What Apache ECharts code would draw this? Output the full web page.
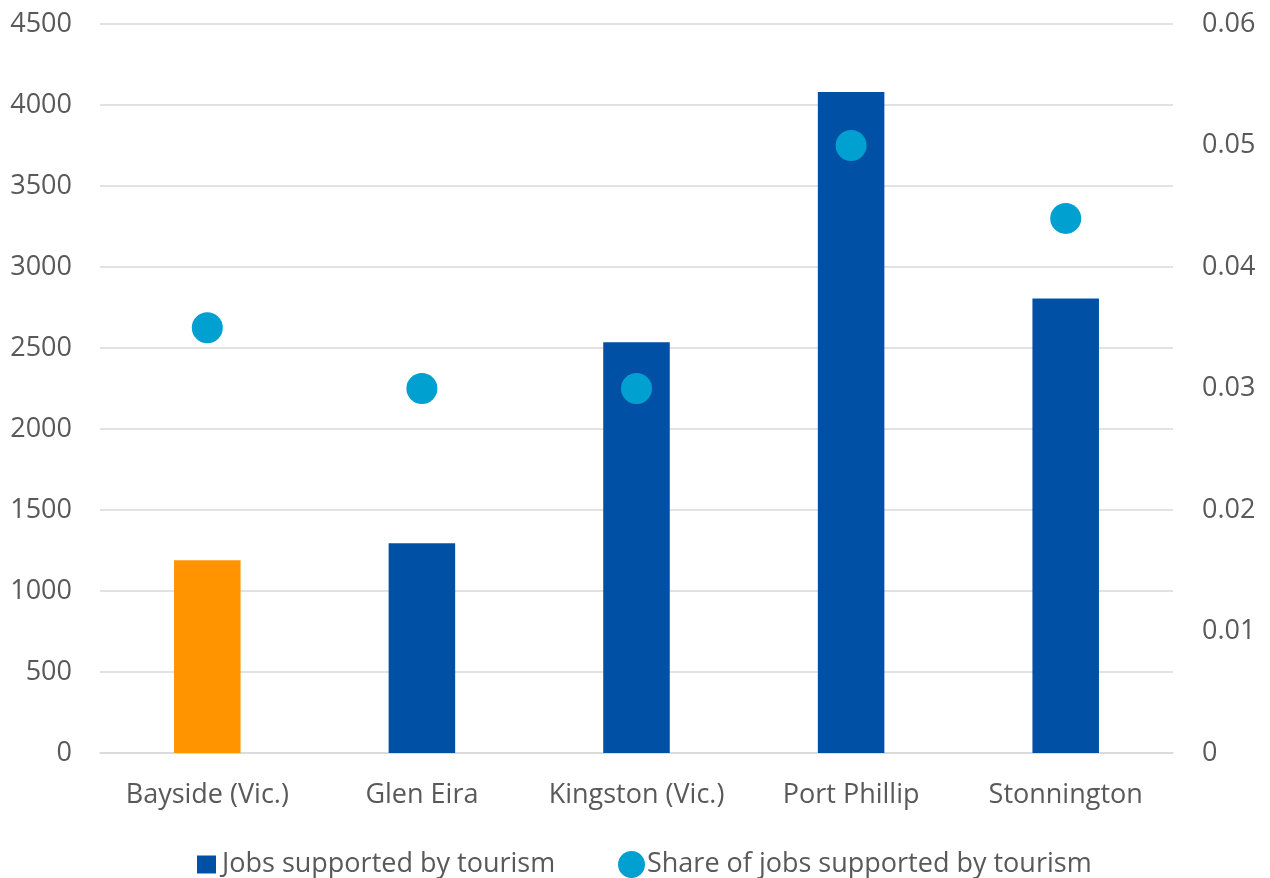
<!DOCTYPE html>
<html>
<head>
<meta charset="utf-8">
<style>
  html, body { margin: 0; padding: 0; background: #ffffff; }
  #chart { width: 1270px; height: 878px; }
</style>
<script src="https://cdn.jsdelivr.net/npm/echarts@6/dist/echarts.min.js"></script>
</head>
<body>
<div id="chart"></div>
<script>
// Local government areas
const categories = ['Bayside (Vic.)', 'Glen Eira', 'Kingston (Vic.)', 'Port Phillip', 'Stonnington'];
// Number of jobs supported by tourism (left axis)
const jobs = [1190, 1295, 2535, 4080, 2805];
// Share of all jobs supported by tourism (right axis)
const share = [0.035, 0.030, 0.030, 0.050, 0.044];
// Index of the highlighted area
const highlightIndex = 0;

const FONT = '"Open Sans", "Noto Sans", sans-serif';
const FS = 27;
const TEXT = '#595959';
const BLUE = '#0050A5';
const ORANGE = '#FF9300';
const CYAN = '#00A0D0';
const GRID = '#D9D9D9';

const chart = echarts.init(document.getElementById('chart'), null, { renderer: 'canvas' });

chart.setOption({
  backgroundColor: '#ffffff',
  animation: false,
  textStyle: { fontFamily: FONT, color: TEXT },
  grid: { left: 100, right: 97, top: 24, bottom: 125, containLabel: false },
  legend: [
    {
      data: [{ name: 'Jobs supported by tourism', icon: 'rect' }],
      left: 192, top: 846,
      itemWidth: 19, itemHeight: 18,
      textStyle: { fontFamily: FONT, fontSize: FS, color: TEXT, padding: [0, 0, 0, 1] }
    },
    {
      data: [{ name: 'Share of jobs supported by tourism', icon: 'circle' }],
      left: 613, top: 846,
      itemWidth: 27, itemHeight: 27,
      textStyle: { fontFamily: FONT, fontSize: FS, color: TEXT, padding: [0, 0, 0, -3] }
    }
  ],
  xAxis: {
    type: 'category',
    data: categories,
    axisLine: { show: true, lineStyle: { color: GRID, width: 1.5 } },
    axisTick: { show: false },
    axisLabel: {
      fontFamily: FONT, fontSize: FS, color: TEXT, margin: 29,
      interval: 0, hideOverlap: false
    }
  },
  yAxis: [
    {
      type: 'value',
      min: 0, max: 4500, interval: 500,
      axisLine: { show: false },
      axisTick: { show: false },
      splitLine: { lineStyle: { color: GRID, width: 1.5 } },
      axisLabel: {
        fontFamily: FONT, fontSize: FS, color: TEXT, margin: 28,
        formatter: v => String(v)
      }
    },
    {
      type: 'value',
      min: 0, max: 0.06, interval: 0.01,
      position: 'right',
      axisLine: { show: false },
      axisTick: { show: false },
      splitLine: { show: false },
      axisLabel: {
        fontFamily: FONT, fontSize: FS, color: TEXT, margin: 29,
        formatter: v => String(+v.toFixed(2))
      }
    }
  ],
  series: [
    {
      name: 'Jobs supported by tourism',
      type: 'bar',
      yAxisIndex: 0,
      barWidth: '31%',
      itemStyle: { color: BLUE },
      data: jobs.map((v, i) => i === highlightIndex ? { value: v, itemStyle: { color: ORANGE } } : v)
    },
    {
      name: 'Share of jobs supported by tourism',
      type: 'scatter',
      yAxisIndex: 1,
      symbol: 'circle',
      symbolSize: 31,
      itemStyle: { color: CYAN, opacity: 1 },
      data: share
    }
  ]
});
</script>
</body>
</html>
